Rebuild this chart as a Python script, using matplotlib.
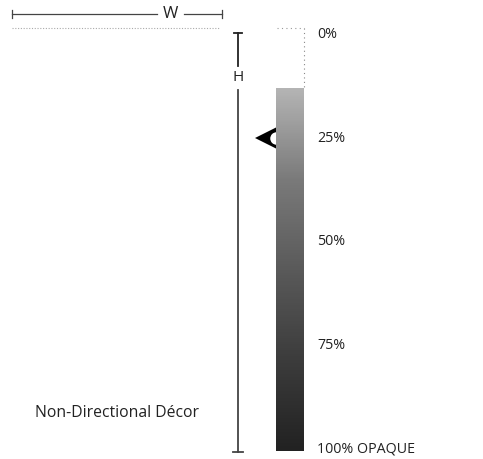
import numpy as np
import matplotlib
matplotlib.use("Agg")
import matplotlib.pyplot as plt
from matplotlib.colors import LinearSegmentedColormap

plt.rcParams['font.family'] = ['Open Sans', 'DejaVu Sans']

# opacity scale (percent) and labels
levels = [0, 25, 50, 75, 100]
level_labels = ['0%', '25%', '50%', '75%', '100% OPAQUE']
bar_start = 13          # percent where the visible gradient begins
marker_level = 25       # position of the pointer
title = 'Non-Directional Décor'
dim_w, dim_h = 'W', 'H'

fig = plt.figure(figsize=(4.83, 4.59), dpi=100)
ax = fig.add_axes([0, 0, 1, 1])
# x in pixels, y in percent
px_per_pct = 4.14
y0 = 35
ax.set_xlim(0, 483)
ax.set_ylim((459 - y0) / px_per_pct, -y0 / px_per_pct)
ax.axis('off')

def pct(py):
    return (py - y0) / px_per_pct

# gradient bar
cmap = LinearSegmentedColormap.from_list('g', ['#b4b4b4', '#7a7a7a', '#5a5a5a', '#3c3c3c', '#222222'])
grad = np.linspace(bar_start, levels[-1], 200).reshape(-1, 1)
ax.imshow(grad, cmap=cmap, aspect='auto', extent=[276, 304, levels[-1] + 0.6, bar_start],
          vmin=bar_start, vmax=levels[-1], interpolation='bilinear', zorder=3)
# dotted outline above bar
ax.plot([304, 304], [pct(28), bar_start], color='#888888', lw=0.8, ls=(0, (1, 3)))
ax.plot([277, 304], [pct(28), pct(28)], color='#999999', lw=0.8, ls=(0, (1, 3)))

# level labels
for lv, lb in zip(levels, level_labels):
    ax.text(317, lv, lb, fontsize=10.3, va='center', ha='left', color='#222222')

# pointer marker
ax.plot([267], [marker_level], marker='<', markersize=17, color='black', zorder=1,
        markeredgewidth=0)
ax.plot([276], [marker_level], marker='o', markersize=9, color='white', zorder=2,
        markeredgewidth=0)

# H dimension line
hx = 238
ax.plot([hx, hx], [pct(33), pct(66)], color='#222222', lw=1.3)
ax.plot([hx, hx], [pct(90), pct(452)], color='#444444', lw=1.3)
ax.plot([hx - 4, hx + 4], [pct(33), pct(33)], color='#222222', lw=1.3)
ax.plot([hx - 5, hx + 5], [pct(452), pct(452)], color='#444444', lw=1.3)
ax.text(hx, pct(78), dim_h, fontsize=11, ha='center', va='center', color='#222222')

# W dimension line
wy = pct(14)
ax.plot([12, 157], [wy, wy], color='#444444', lw=0.9)
ax.plot([184, 222], [wy, wy], color='#444444', lw=0.9)
for xx in (12, 222):
    ax.plot([xx, xx], [pct(10), pct(18)], color='#444444', lw=0.9)
ax.text(170, wy, dim_w, fontsize=12, ha='center', va='center', color='#222222')

# dotted reference line
ax.plot([12, 220], [pct(28), pct(28)], color='#aaaaaa', lw=0.8, ls=(0, (1, 1.5)))

# title
ax.text(117, pct(413), title, fontsize=11.3, ha='center', va='center', color='#222222')

fig.savefig('out.png', dpi=100)
